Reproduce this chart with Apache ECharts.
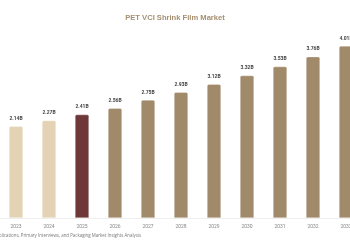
<!DOCTYPE html>
<html>
<head>
<meta charset="utf-8">
<script src="https://cdn.jsdelivr.net/npm/echarts@6/dist/echarts.min.js"></script>
<style>
  html, body { margin: 0; padding: 0; background: #fff; }
  #chart { width: 350px; height: 250px; }
</style>
</head>
<body>
<div id="chart"></div>
<script>
var years = ["2023", "2024", "2025", "2026", "2027", "2028", "2029", "2030", "2031", "2032", "2033"];
var values = [2.14, 2.27, 2.41, 2.56, 2.75, 2.93, 3.12, 3.32, 3.53, 3.76, 4.01];
var barColors = ["#e3d3b4", "#e3d3b4", "#6e3838", "#a08a6a", "#a08a6a", "#a08a6a",
                 "#a08a6a", "#a08a6a", "#a08a6a", "#a08a6a", "#a08a6a"];

var chart = echarts.init(document.getElementById("chart"));

var option = {
  backgroundColor: "#fff",
  animation: false,
  textStyle: { fontFamily: "Roboto, Arial, sans-serif" },
  title: {
    text: "PET VCI Shrink Film Market",
    left: "center",
    top: 9,
    textStyle: { fontSize: 7.6, fontWeight: "bold", color: "#a58f70", fontFamily: "Arial, Liberation Sans, sans-serif" }
  },
  grid: { left: -0.5, width: 363, top: 3.5, bottom: 32, containLabel: false, outerBoundsMode: "none" },
  xAxis: {
    type: "category",
    data: years,
    axisLine: { lineStyle: { color: "#eeeeee", width: 1 } },
    axisTick: { show: false },
    axisLabel: { fontSize: 5, color: "#888", margin: 6 }
  },
  yAxis: {
    type: "value",
    min: 0,
    max: 5,
    show: false,
    splitLine: { show: false }
  },
  graphic: [{
    type: "text",
    x: 141,
    y: 236,
    style: {
      text: "Source: Company Publications, Primary Interviews, and Packaging Market Insights Analysis",
      textAlign: "right",
      textVerticalAlign: "middle",
      fontSize: 4.4,
      fill: "#777",
      fontFamily: "Open Sans, sans-serif"
    }
  }],
  series: [{
    type: "bar",
    barWidth: 14,
    data: values.map(function (v, i) {
      return { value: v, itemStyle: { color: barColors[i] } };
    }),
    itemStyle: { borderRadius: [1.5, 1.5, 0, 0], borderColor: "rgba(255,255,255,0.6)", borderWidth: 0.5 },
    label: {
      show: true,
      position: "top",
      distance: 5,
      fontSize: 5,
      fontWeight: "bold",
      color: "#444",
      formatter: function (p) { return p.value.toFixed(2) + "B"; }
    }
  }]
};

chart.setOption(option);
</script>
</body>
</html>
